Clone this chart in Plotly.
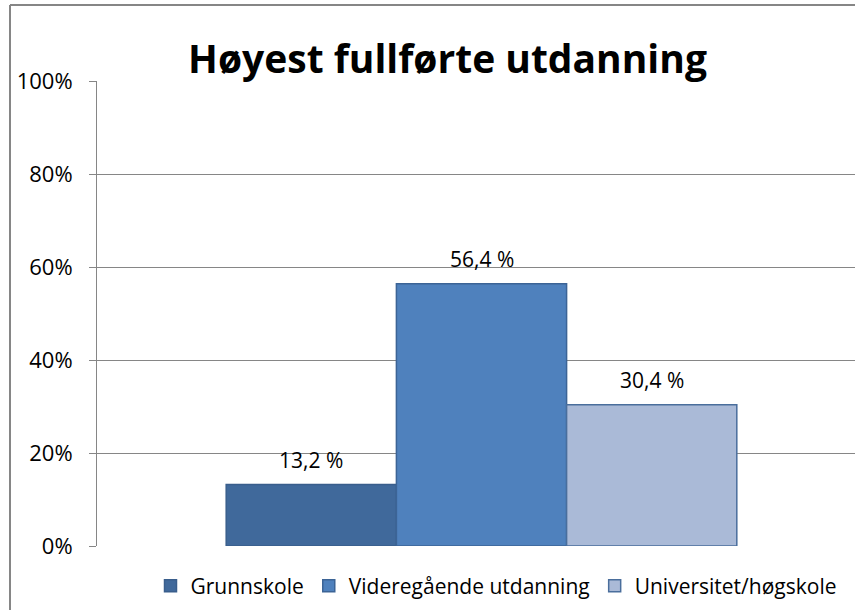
import plotly.graph_objects as go

title_text = "Høyest fullførte utdanning"
category = [""]
series_names = ["Grunnskole", "Videregående utdanning", "Universitet/høgskole"]
series_values = [13.2, 56.4, 30.4]
value_labels = ["13,2 %", "56,4 %", "30,4 %"]
fill_colors = ["#40699B", "#4F81BD", "#AABAD7"]
line_colors = ["#395E8C", "#3C6496", "#4A6E9C"]
y_ticks = [0, 20, 40, 60, 80, 100]
y_tick_text = ["0%", "20%", "40%", "60%", "80%", "100%"]

FONT = "Open Sans"
W, H = 855, 610
L, T, B = 97, 81, 64
plot_w = W - L
plot_h = H - T - B
unit_px = 769
BARGAP = 0.336

fig = go.Figure()
for name, val, fc, lc in zip(series_names, series_values, fill_colors, line_colors):
    fig.add_trace(go.Bar(
        x=category, y=[val], name=name,
        marker=dict(color=fc, line=dict(color=lc, width=1.5)),
    ))

n = len(series_values)
bar_w = (1 - BARGAP) / n
annotations = []
for i, (val, lab) in enumerate(zip(series_values, value_labels)):
    annotations.append(dict(
        x=(i - (n - 1) / 2) * bar_w, y=val, xref="x", yref="y", text=lab, showarrow=False,
        yanchor="bottom", xanchor="center", yshift=9,
        font=dict(family=FONT, size=21, color="#000000"),
    ))

fig.update_layout(
    width=W, height=H,
    margin=dict(l=L, r=0, t=T, b=B, pad=0),
    paper_bgcolor="white", plot_bgcolor="white",
    barmode="group", bargap=BARGAP, bargroupgap=0,
    font=dict(family=FONT, size=21, color="#000000"),
    title=dict(text="<b>" + title_text + "</b>", x=(447.5 - L) / plot_w, xref="paper", xanchor="center",
               y=1 - 59 / H, yref="container", yanchor="middle",
               font=dict(family=FONT, size=39, color="#000000")),
    xaxis=dict(range=[-0.5, -0.5 + plot_w / unit_px], showticklabels=False, showgrid=False,
               zeroline=False, showline=False, ticks=""),
    yaxis=dict(range=[0, 100], tickvals=y_ticks, ticktext=y_tick_text, showgrid=True,
               gridcolor="#868686", gridwidth=1, zeroline=False, showline=True,
               linecolor="#868686", linewidth=1, ticks="outside", ticklen=7, tickcolor="#868686",
               ticklabelstandoff=12, tickfont=dict(family=FONT, size=22, color="#000000")),
    legend=dict(orientation="h", x=(496 - L) / plot_w, xanchor="center", y=-(586 - (T + plot_h)) / plot_h,
                yanchor="middle", font=dict(family=FONT, size=21, color="#000000"),
                itemwidth=30, tracegroupgap=0, traceorder="normal"),
    annotations=annotations,
    shapes=[
        dict(type="line", xref="paper", yref="paper", x0=(10 - L) / plot_w, x1=(10 - L) / plot_w,
             y0=(T + plot_h - 5) / plot_h, y1=-0.3,
             line=dict(color="#868686", width=2)),
        dict(type="line", xref="paper", yref="paper", x0=(10 - L) / plot_w, x1=1.1,
             y0=(T + plot_h - 5) / plot_h, y1=(T + plot_h - 5) / plot_h,
             line=dict(color="#868686", width=2)),
    ],
)
fig.write_html("out.html", config={"displayModeBar": False},
               post_script="document.body.style.margin='0px';")
